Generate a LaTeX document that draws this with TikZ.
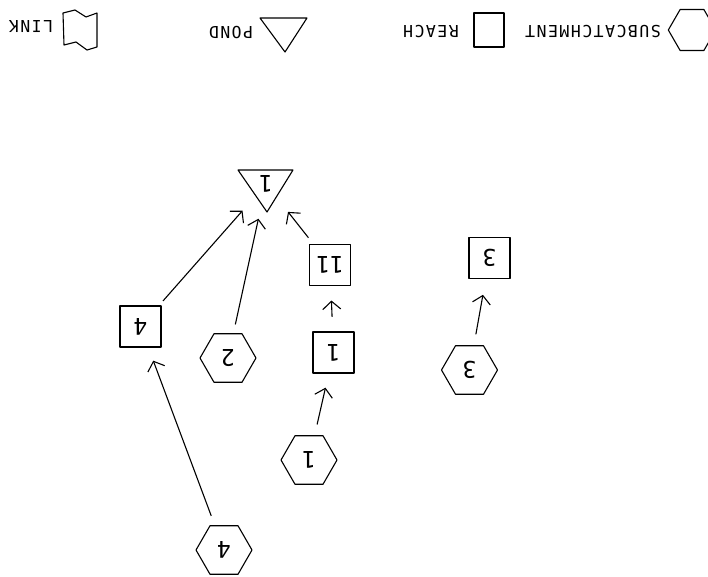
\documentclass[tikz,border=0pt]{standalone}
\usepackage{fontspec}
\usepackage{graphicx}
\usetikzlibrary{shapes.geometric,arrows.meta,calc}
\newfontfamily\plotfont[LetterSpace=9]{DejaVu Sans Mono}
\newfontfamily\plotdigits{DejaVu Sans Mono}
\newcommand{\flip}[1]{\rotatebox[origin=c]{180}{#1}}
\begin{document}
\begin{tikzpicture}[x=1pt,y=-1pt,line width=1.1pt,line join=round,
  digitfont/.style={font=\plotdigits\fontsize{23}{23}\selectfont},
  hexnode/.style={draw,regular polygon,regular polygon sides=6,minimum size=56pt,inner sep=0pt,digitfont},
  reachnode/.style={draw,rectangle,minimum width=41pt,minimum height=41pt,inner sep=0pt,digitfont},
  pondnode/.style={circle,minimum size=70pt,inner sep=0pt,digitfont},
  flow/.style={-{Straight Barb[length=8pt,width=18pt]}},
  legendtext/.style={font=\plotfont\fontsize{16.5}{16.5}\selectfont,inner sep=0pt}
]
\clip (0,0) rectangle (708,576);
\fill[white] (0,0) rectangle (708,576);

% legend
\node[legendtext] (linktext) at (31,27) {\flip{LINK}};
\draw (63,13) -- (75,10) -- (86,17) -- (97,13) -- (97,47) -- (87,50) -- (76,42) -- (64,45) -- cycle;
\node[legendtext] (pondtext) at (231,33) {\flip{POND}};
\draw (260,18) -- (307,18) -- (285,52) -- cycle;
\node[legendtext] (reachtext) at (431,32) {\flip{REACH}};
\node[draw,rectangle,minimum width=30pt,minimum height=34pt,inner sep=0pt] (legreach) at (489,30) {};
\node[legendtext] (subtext) at (593,32) {\flip{SUBCATCHMENT}};
\node[draw,regular polygon,regular polygon sides=6,minimum size=47.4pt,inner sep=0pt] (leghex) at (692,30) {};

% pond
\node[pondnode] (P1) at (266,184) {\flip{1}};
\draw ($(P1)+(-28,-14)$) -- ($(P1)+(27,-14)$) -- ($(P1)+(1,28)$) -- cycle;

% reaches
\node[reachnode] (R11) at (330,265) {\flip{11}};
\node[reachnode] (R1) at (333.5,352.5) {\flip{1}};
\node[reachnode] (R3) at (489.5,258) {\flip{3}};
\node[reachnode] (R4) at (140.5,326.5) {\flip{4}};

% subcatchments
\node[hexnode] (S1) at (309,460) {\flip{1}};
\node[hexnode] (S2) at (228,358) {\flip{2}};
\node[hexnode] (S3) at (469.5,370) {\flip{3}};
\node[hexnode] (S4) at (224,550) {\flip{4}};

% connectors
\draw[flow,shorten <=10pt,shorten >=14pt] (S4) -- (R4);
\draw[flow,shorten <=6pt] (R4) -- (P1);
\draw[flow,shorten <=9pt] (S2) -- (P1);
\draw[flow,shorten <=8pt] (R11) -- (P1);
\draw[flow,shorten <=14.5pt,shorten >=14.5pt] (R1) -- (R11);
\draw[flow,shorten <=11pt,shorten >=14.5pt] (S1) -- (R1);
\draw[flow,shorten <=11pt,shorten >=16pt] (S3) -- (R3);
\end{tikzpicture}
\end{document}
